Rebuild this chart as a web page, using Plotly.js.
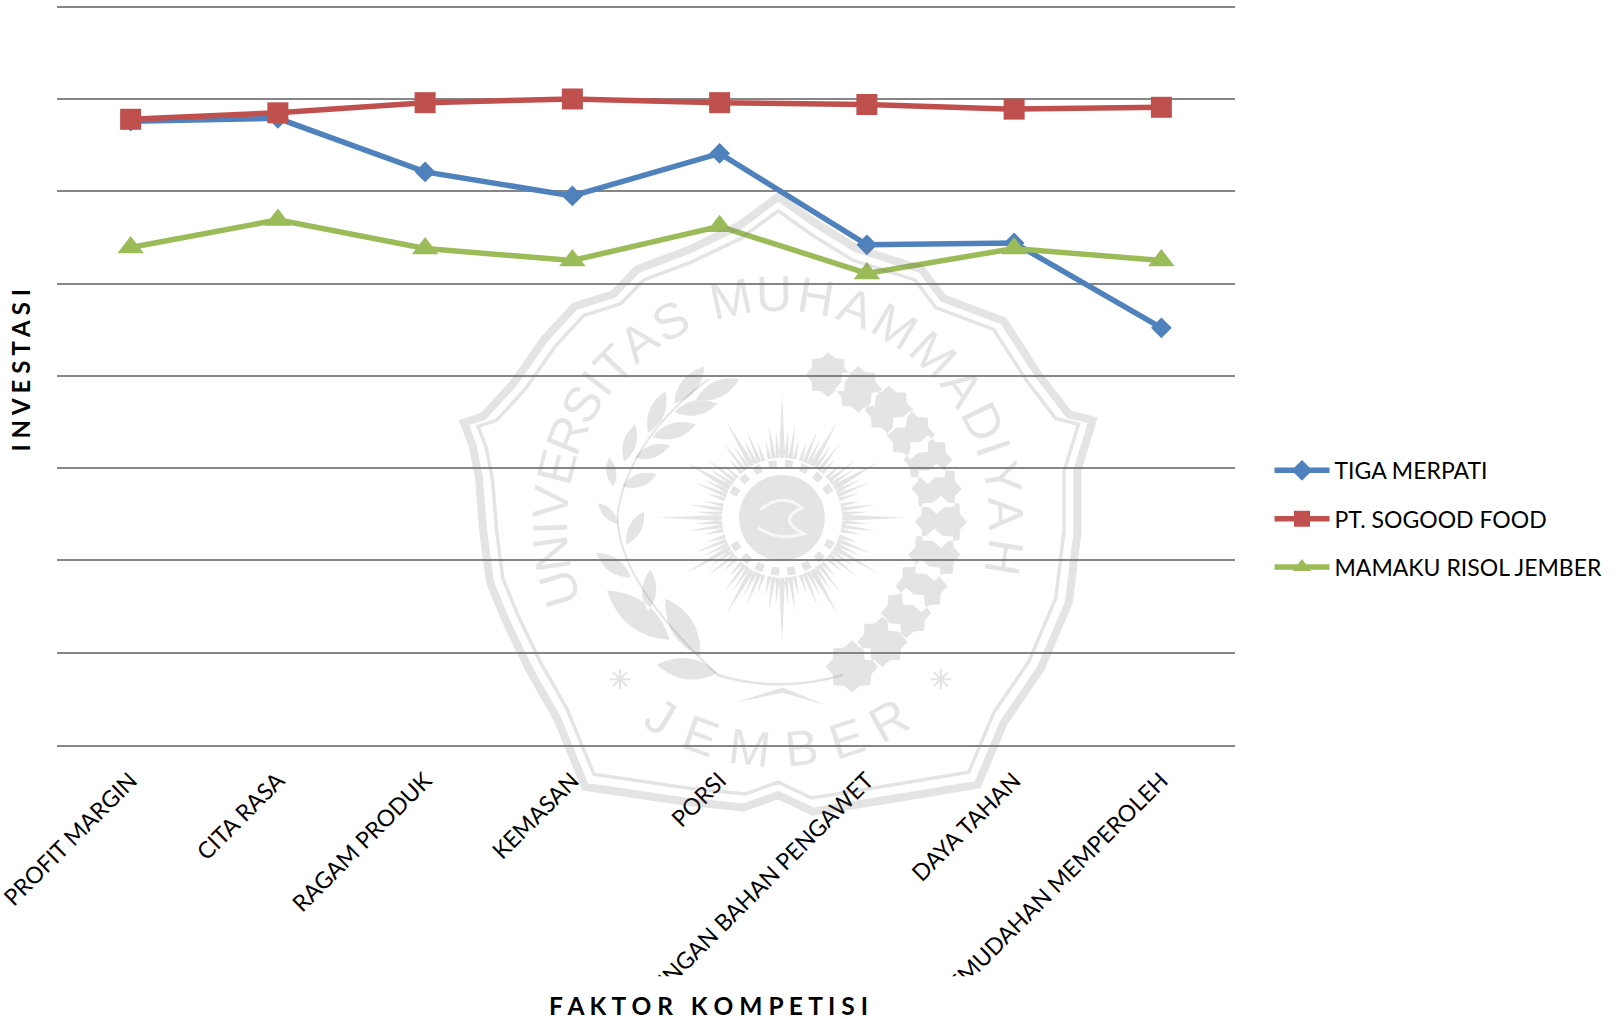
<!DOCTYPE html>
<html>
<head>
<meta charset="utf-8">
<script src="https://cdn.plot.ly/plotly-3.0.1.min.js"></script>
<style>html,body{margin:0;padding:0;background:#fff}#chart{width:1619px;height:1019px}</style>
</head>
<body>
<div id="chart"></div>
<script>
// ---- chart data ----
const categories = ["PROFIT MARGIN","CITA RASA","RAGAM PRODUK","KEMASAN","PORSI","KANDUNGAN BAHAN PENGAWET","DAYA TAHAN","KEMUDAHAN MEMPEROLEH"];
const tigaMerpati = [3.38,3.395,3.105,2.975,3.205,2.71,2.72,2.26];
const sogoodFood  = [3.39,3.425,3.48,3.50,3.48,3.47,3.445,3.455];
const mamakuRisol = [2.695,2.845,2.69,2.625,2.81,2.555,2.69,2.625];
const seriesNames = ["TIGA MERPATI","PT. SOGOOD FOOD","MAMAKU RISOL JEMBER"];

// ---- page geometry ----
const W=1619,H=1019,L=57,R=1235,T=2.6,B=745.5;
const fx=p=>((p-L)/(R-L)).toFixed(5), fy=p=>((B-p)/(B-T)).toFixed(5);
const P=(x,y)=>fx(x)+','+fy(y);
const FONT='Lato, Carlito, "Open Sans", sans-serif';
const WM='rgba(120,120,120,0.2)';

// ---- watermark seal (decoration, not data) ----
const cx=782,cy=518;
const zx=z=>440+z/2.306, zy=z=>180+z/2.412;
const sealOutline=[[780,40],[690,110],[570,170],[455,215],[400,275],[310,305],[240,385],[170,490],[100,570],[55,585],[75,640],[90,720],[100,850],[115,970],[150,1060],[205,1180],[270,1300],[335,1465],[560,1500],[700,1515],[780,1485],[860,1525],[1010,1500],[1240,1460],[1300,1310],[1385,1180],[1450,1020],[1470,850],[1470,700],[1505,580],[1450,565],[1380,470],[1300,340],[1160,285],[1110,215],[960,165],[860,100]];
function poly(pts,k){const c=[780,790];return 'M'+pts.map(p=>P(zx(c[0]+(p[0]-c[0])*k),zy(c[1]+(p[1]-c[1])*k))).join('L')+'Z';}
function rays(){let d='';for(let g=0;g<12;g++){const a0=g*Math.PI/6,big=g%3===0;
  for(const [o,r1,w] of [[0,big?125:112,3],[-.07,88,2.2],[.07,88,2.2],[-.14,95,2.2],[.14,95,2.2],[-.21,80,2],[.21,80,2]]){
    const a=a0+o,s=Math.sin(a),c=Math.cos(a),nx=c*w,ny=s*w,r0=60;
    d+='M'+P(cx+s*r0-nx,cy-c*r0-ny)+'L'+P(cx+s*r0+nx,cy-c*r0+ny)+'L'+P(cx+s*r1,cy-c*r1)+'Z';}}
  return d;}
function blob(x,y,r){let d='';for(let i=0;i<16;i++){const a=i*Math.PI/8,q=r*(i%2?0.84:1.06);d+=(i?'L':'M')+P(x+q*Math.cos(a),y+q*Math.sin(a));}return d+'Z';}
const flowers=[[895,470,50],[965,505,52],[1035,555,54],[1085,615,54],[1125,675,54],[1145,745,56],[1155,825,58],[1140,905,58],[1110,980,58],[1075,1045,56],[1020,1115,56],[950,1175,58]];
const leaves=[[640,1190,500,1170],[600,1150,520,1010],[530,1110,385,990],[480,1040,485,940],[440,960,360,900],[430,880,470,800],[410,830,365,780],[420,740,500,710],[400,740,390,670],[450,670,530,640],[425,680,450,590],[490,620,590,590],[480,610,520,510],[540,560,640,540],[540,540,610,450],[590,530,690,480]];
function leaf(a){const [x1,y1,x2,y2]=a.map((v,i)=>i%2?zy(v):zx(v));const mx=(x1+x2)/2,my=(y1+y2)/2,nx=-(y2-y1)*.34,ny=(x2-x1)*.34;
  return 'M'+P(x1,y1)+'Q'+P(mx+nx,my+ny)+' '+P(x2,y2)+'Q'+P(mx-nx,my-ny)+' '+P(x1,y1)+'Z';}
function discPath(r){let d='';for(let i=0;i<32;i++){const a=i*Math.PI/16;d+=(i?'L':'M')+P(cx+r*Math.cos(a),cy+r*Math.sin(a));}return d+'Z';}
function arcPath(r,a0,a1){let d='';for(let i=0;i<=24;i++){const a=(a0+(a1-a0)*i/24)*Math.PI/180;d+=(i?'L':'M')+P(cx+r*Math.sin(a),cy-r*Math.cos(a));}return d;}
function starPath(x,y,r){let d='';for(let i=0;i<4;i++){const a=i*Math.PI/4;d+='M'+P(x-r*Math.cos(a),y-r*Math.sin(a))+'L'+P(x+r*Math.cos(a),y+r*Math.sin(a));}return d;}

const shape=(path,fill,line,w,dash)=>({type:'path',path,xref:'paper',yref:'paper',layer:'above',fillcolor:fill||'rgba(0,0,0,0)',line:{color:line||'rgba(0,0,0,0)',width:w||0,dash:dash||'solid'}});
const shapes=[
  shape(poly(sealOutline,1),null,WM,8),
  shape(poly(sealOutline,0.955),null,WM,3.5),
  shape(rays(),WM),
  shape(discPath(43),WM),
  shape(arcPath(54,-65,65),null,WM,8,'dot'),
  shape(arcPath(54,115,245),null,WM,8,'dot'),
  shape('M'+P(cx-22,cy-8)+'Q'+P(cx,cy-26)+' '+P(cx+20,cy-10)+'Q'+P(cx-6,cy+2)+' '+P(cx+22,cy+16)+'Q'+P(cx-4,cy+24)+' '+P(cx-24,cy+10),null,'rgba(255,255,255,0.7)',3),
  shape(flowers.map(f=>blob(zx(f[0]),zy(f[1]),f[2]/2.35)).join(''),WM),
  shape(leaves.map(leaf).join(''),WM),
  shape('M'+P(zx(640),zy(1195))+'Q'+P(zx(400),zy(960))+' '+P(zx(410),zy(800))+'Q'+P(zx(440),zy(620))+' '+P(zx(620),zy(480)),null,WM,2),
  shape('M'+P(zx(640),zy(1195))+'Q'+P(zx(780),zy(1240))+' '+P(zx(930),zy(1195)),null,WM,2.5),
  shape('M'+P(zx(680),zy(1262))+'L'+P(zx(790),zy(1225))+'L'+P(zx(890),zy(1268))+'L'+P(zx(790),zy(1238))+'Z',WM),
  shape(starPath(zx(415),zy(1205),10),null,WM,2),
  shape(starPath(zx(1155),zy(1205),10),null,WM,2),
  // the picture ends below the long tick labels, which are cut there
  {type:'rect',xref:'paper',yref:'paper',x0:fx(-10),x1:fx(1300),y0:fy(977),y1:fy(1030),layer:'above',fillcolor:'#fff',line:{width:0}}
];

const sealC={x:778,y:522,r:228};
const arcTop=[["U",-107],["N",-98],["I",-91.5],["V",-85],["E",-76],["R",-67.5],["S",-59],["I",-52.5],["T",-46],["A",-37.5],["S",-28],
  ["M",-12],["U",-1],["H",9.5],["A",20],["M",31],["M",43],["A",54],["D",64],["I",71],["Y",79],["A",88],["H",99]];
const arcBot=[["J",-31],["E",-20],["M",-7],["B",6],["E",17.5],["R",29]];
const wmLetter=(t,x,y,rot,size)=>({text:t,x:+fx(x),y:+fy(y),xref:'paper',yref:'paper',showarrow:false,textangle:rot,xanchor:'center',yanchor:'middle',font:{family:'"Liberation Sans", sans-serif',size,color:WM}});
const annotations=[
  ...arcTop.map(([t,a])=>{const r=a*Math.PI/180;return wmLetter(t,sealC.x+sealC.r*Math.sin(r),sealC.y-sealC.r*Math.cos(r),a,50);}),
  ...arcBot.map(([t,a])=>{const r=a*Math.PI/180;return wmLetter(t,sealC.x+sealC.r*Math.sin(r),sealC.y+sealC.r*Math.cos(r),-a,50);}),
  {text:"<b>I N V E S T A S I</b>",x:+fx(20),y:+fy(370.5),xref:'paper',yref:'paper',showarrow:false,textangle:-90,xanchor:'center',yanchor:'middle',font:{family:FONT,size:24,color:'#000'}},
  {text:"<b>F A K T O R   K O M P E T I S I</b>",x:+fx(709),y:+fy(1006),xref:'paper',yref:'paper',showarrow:false,xanchor:'center',yanchor:'middle',font:{family:FONT,size:24.5,color:'#000'}}
];

const mk=(y,name,color,symbol,size)=>({type:'scatter',mode:'lines+markers',x:categories,y,name,legendgroup:name,
  line:{color,width:5.5},marker:{color,symbol,size,line:{width:0}},cliponaxis:false});
const traces=[
  mk(tigaMerpati,seriesNames[0],'#4F81BD','diamond',16),
  mk(sogoodFood,seriesNames[1],'#C0504D','square',21),
  mk(mamakuRisol,seriesNames[2],'#9BBB59','triangle-up',23)
];
const layout={
  width:W,height:H,showlegend:true,paper_bgcolor:'#fff',plot_bgcolor:'#fff',
  margin:{l:L,r:W-R,t:T,b:H-B,pad:0},
  font:{family:FONT,color:'#000'},
  xaxis:{type:'category',categoryorder:'array',categoryarray:categories,range:[-0.5,7.5],tickangle:-45,ticks:'outside',ticklen:11,tickwidth:1,tickcolor:'rgba(255,255,255,0)',showgrid:false,zeroline:false,showline:true,linecolor:'#868686',linewidth:2,tickfont:{family:FONT,size:23,color:'#000'},automargin:false},
  yaxis:{range:[0,4.02],tickvals:[0.5,1,1.5,2,2.5,3,3.5,4],showticklabels:false,ticks:'',showgrid:true,gridcolor:'#868686',gridwidth:2,zeroline:false,automargin:false},
  legend:{x:(1269.5-L)/(R-L),y:fy(449),xanchor:'left',yanchor:'top',traceorder:'grouped',tracegroupgap:15.5,itemwidth:55,bgcolor:'rgba(0,0,0,0)',font:{family:FONT,size:23,color:'#000'}},
  shapes,annotations
};
Plotly.newPlot('chart',traces,layout,{displayModeBar:false,staticPlot:true});
</script>
</body>
</html>
